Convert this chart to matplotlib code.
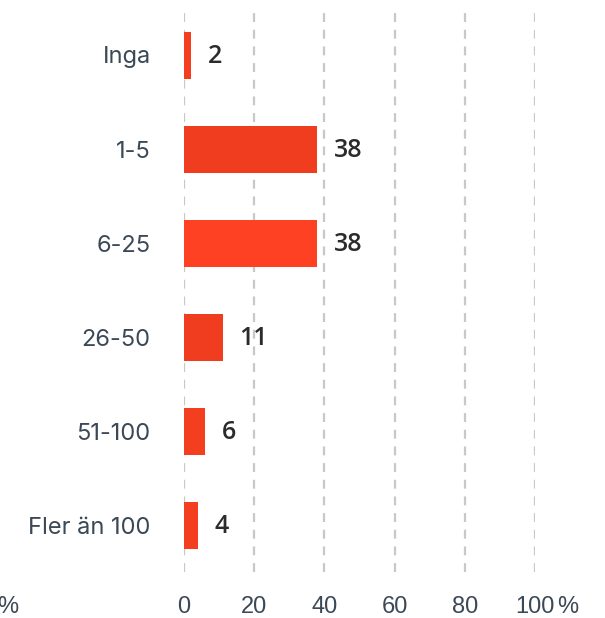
import matplotlib.pyplot as plt

# data
categories = ["Inga", "1-5", "6-25", "26-50", "51-100", "Fler än 100"]
values = [2, 38, 38, 11, 6, 4]
x_ticks = [0, 20, 40, 60, 80, 100]

bar_colors = ["#F43E20", "#F03C1F", "#FF4123", "#F03C1F", "#F43E20", "#F43E20"]
text_color = "#3B4856"

plt.rcParams["font.family"] = ["Liberation Sans", "DejaVu Sans"]

fig = plt.figure(figsize=(6.05, 6.18), dpi=100)
ax = fig.add_axes([184 / 605, 1 - 572 / 618, 351 / 605, 564 / 618])

y_pos = list(range(len(categories)))
ax.barh(y_pos, values, height=0.5, color=bar_colors, zorder=3)

# value labels to the right of each bar
for y, v in zip(y_pos, values):
    ax.annotate(str(v), (v, y), xytext=(12, -1), textcoords="offset points",
                va="center", ha="left", fontsize=18, color="#2B2B2B",
                fontfamily=["Open Sans", "DejaVu Sans"], fontweight="semibold")

ax.set_xlim(0, 100)
ax.set_ylim(len(categories) - 0.5, -0.5)
ax.set_xticks(x_ticks)
ax.set_xticklabels([str(t) for t in x_ticks])
ax.set_yticks(y_pos)
ax.set_yticklabels(categories, fontfamily=["Inter", "DejaVu Sans"], fontsize=17)

ax.tick_params(axis="x", length=0, pad=17, labelsize=17, labelcolor=text_color)
ax.tick_params(axis="y", length=0, pad=24, labelcolor=text_color)

ax.grid(axis="x", color="#C8C8C8", linestyle=(0, (4, 3.5)), linewidth=1.6, zorder=0)
ax.grid(axis="y", visible=False)
for side in ax.spines.values():
    side.set_visible(False)

# percent signs at both ends of the value axis
fig.text(557 / 605, 1 - 607 / 618, "%", ha="left", va="center", fontsize=17, color=text_color)
fig.text(18 / 605, 1 - 607 / 618, "%", ha="right", va="center", fontsize=17, color=text_color)

fig.savefig("out.png", dpi=100)
